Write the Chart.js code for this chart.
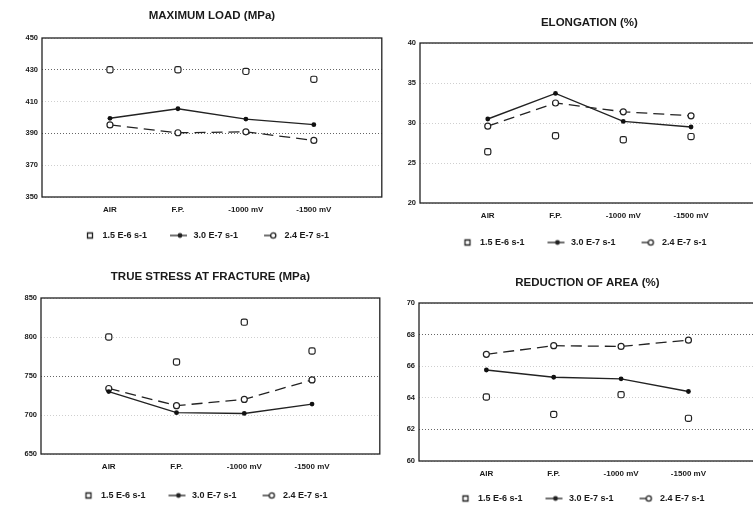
<!DOCTYPE html>
<html>
<head>
<meta charset="utf-8">
<script src="https://cdn.jsdelivr.net/npm/chart.js@4/dist/chart.umd.min.js"></script>
<style>
  html, body { margin: 0; padding: 0; background: #fff; width: 753px; height: 509px; overflow: hidden; }
  canvas { position: absolute; }
</style>
</head>
<body>
<canvas id="loadChart"></canvas>
<canvas id="elongChart"></canvas>
<canvas id="stressChart"></canvas>
<canvas id="areaChart"></canvas>
<script>
// categories and strain rates
const conditions = ['AIR', 'F.P.', '-1000 mV', '-1500 mV']
const rates = ['1.5 E-6 s-1', '3.0 E-7 s-1', '2.4 E-7 s-1']

// maximum load (MPa)
const loadFast = [430, 430, 429, 424]
const loadMid = [399.5, 405.5, 399, 395.5]
const loadSlow = [395.3, 390.4, 391, 385.6]

// elongation (%)
const elongFast = [26.4, 28.4, 27.9, 28.3]
const elongMid = [30.5, 33.7, 30.2, 29.5]
const elongSlow = [29.6, 32.5, 31.4, 30.9]

// true stress at fracture (MPa)
const stressFast = [800, 768, 819, 782]
const stressMid = [730, 703, 702, 714]
const stressSlow = [734, 712, 720, 745]

// reduction of area (%)
const areaFast = [64.05, 62.95, 64.2, 62.7]
const areaMid = [65.76, 65.3, 65.2, 64.4]
const areaSlow = [66.75, 67.3, 67.25, 67.65]

Chart.defaults.font.family = '"Liberation Sans", Arial, sans-serif'
Chart.defaults.font.weight = 'bold'
Chart.defaults.color = '#1a1a1a'

const ink = '#222'

// legend keys (40px wide, drawn at the right end next to the text)
function makeKey(kind) {
    let c = document.createElement('canvas')
    c.width = 40
    c.height = 10
    let k = c.getContext('2d')
    k.strokeStyle = ink
    k.fillStyle = ink
    k.lineWidth = 1.3
    if (kind == 0) {
        k.fillStyle = '#fff'
        k.beginPath()
        k.rect(29.5, 2.5, 5, 5)
        k.fill()
        k.stroke()
    } else if (kind == 1) {
        k.beginPath()
        k.moveTo(21, 5)
        k.lineTo(38, 5)
        k.stroke()
        k.beginPath()
        k.arc(31, 5, 2.4, 0, Math.PI * 2)
        k.fill()
    } else {
        k.beginPath()
        k.moveTo(24, 5)
        k.lineTo(30.5, 5)
        k.stroke()
        k.beginPath()
        k.arc(33.2, 5, 2.6, 0, Math.PI * 2)
        k.fillStyle = '#fff'
        k.fill()
        k.stroke()
    }
    return c
}
const keys = [makeKey(0), makeKey(1), makeKey(2)]

const framePlugin = {
    id: 'frame',
    beforeDatasetsDraw(chart) {
        let { ctx, chartArea: a } = chart
        ctx.save()
        ctx.strokeStyle = ink
        ctx.lineWidth = 1.3
        ctx.strokeRect(a.left, a.top, a.right - a.left, a.bottom - a.top)
        ctx.restore()
    }
}

function pad(values) {
    return [null, ...values, null]
}

function makeChart(id, box, title, yMin, yMax, yStep, strong, fast, mid, slow) {
    let canvas = document.getElementById(id)
    let top = Math.round(box.titleY - 7.75)
    let bottom = box.legendY + 15
    canvas.width = box.R - box.L + 45
    canvas.height = bottom - top
    canvas.style.left = (box.L - 40) + 'px'
    canvas.style.top = top + 'px'

    const data = {
        labels: ['', ...conditions, ''],
        datasets: [{
            label: rates[0],
            data: pad(fast),
            showLine: false,
            borderColor: ink,
            pointStyle: 'rectRounded',
            pointRadius: 3.6,
            pointBorderWidth: 1.2,
            pointBackgroundColor: '#fff'
        }, {
            label: rates[1],
            data: pad(mid),
            borderColor: ink,
            borderWidth: 1.4,
            pointStyle: 'circle',
            pointRadius: 2.4,
            pointBorderWidth: 0,
            pointBackgroundColor: '#111'
        }, {
            label: rates[2],
            data: pad(slow),
            borderColor: ink,
            borderWidth: 1.3,
            borderDash: [11, 6],
            pointStyle: 'circle',
            pointRadius: 3,
            pointBorderWidth: 1.2,
            pointBackgroundColor: '#fff'
        }]
    }

    return new Chart(canvas, {
        type: 'line',
        data: data,
        plugins: [framePlugin],
        options: {
            responsive: false,
            animation: false,
            layout: { padding: { right: 2 } },
            plugins: {
                title: {
                    display: true,
                    text: title,
                    fullSize: false,
                    font: { size: 11.5, lineHeight: 1, weight: 'bold' },
                    padding: { top: 2, bottom: box.T - top - 13.5 }
                },
                legend: {
                    position: 'bottom',
                    labels: {
                        usePointStyle: true,
                        pointStyleWidth: 40,
                        boxHeight: 9,
                        padding: 2,
                        font: { size: 9, weight: 'bold' },
                        generateLabels: chart => Chart.defaults.plugins.legend.labels.generateLabels(chart)
                            .map((item, i) => ({ ...item, pointStyle: keys[i] }))
                    }
                },
                tooltip: { enabled: false }
            },
            scales: {
                x: {
                    offset: false,
                    afterFit: scale => {
                        scale.height = bottom - top - (box.B - top) - 21
                        scale.paddingLeft = 0
                        scale.paddingRight = 0
                    },
                    grid: { display: false, drawTicks: false },
                    border: { display: false },
                    ticks: { padding: 8, autoSkip: false, maxRotation: 0, font: { size: 8 } }
                },
                y: {
                    min: yMin,
                    max: yMax,
                    afterFit: scale => { scale.width = 40 },
                    grid: {
                        drawTicks: false,
                        lineWidth: 1,
                        color: c => strong.includes(c.tick.value) ? '#666' : '#cfcfcf'
                    },
                    border: { display: false, dash: [1, 2] },
                    ticks: { stepSize: yStep, padding: 4, font: { size: 7.5 } }
                }
            }
        }
    })
}

makeChart('loadChart', { L: 42, T: 38, R: 382, B: 197, titleY: 16, legendY: 235 },
    'MAXIMUM LOAD (MPa)', 350, 450, 20, [390, 430], loadFast, loadMid, loadSlow)
makeChart('elongChart', { L: 420, T: 43, R: 759, B: 203, titleY: 23, legendY: 242 },
    'ELONGATION (%)', 20, 40, 5, [], elongFast, elongMid, elongSlow)
makeChart('stressChart', { L: 41, T: 298, R: 380, B: 454, titleY: 277, legendY: 495 },
    'TRUE STRESS AT FRACTURE (MPa)', 650, 850, 50, [750], stressFast, stressMid, stressSlow)
makeChart('areaChart', { L: 419, T: 303, R: 756, B: 461, titleY: 283, legendY: 498 },
    'REDUCTION OF AREA (%)', 60, 70, 2, [68, 62], areaFast, areaMid, areaSlow)
</script>
</body>
</html>
